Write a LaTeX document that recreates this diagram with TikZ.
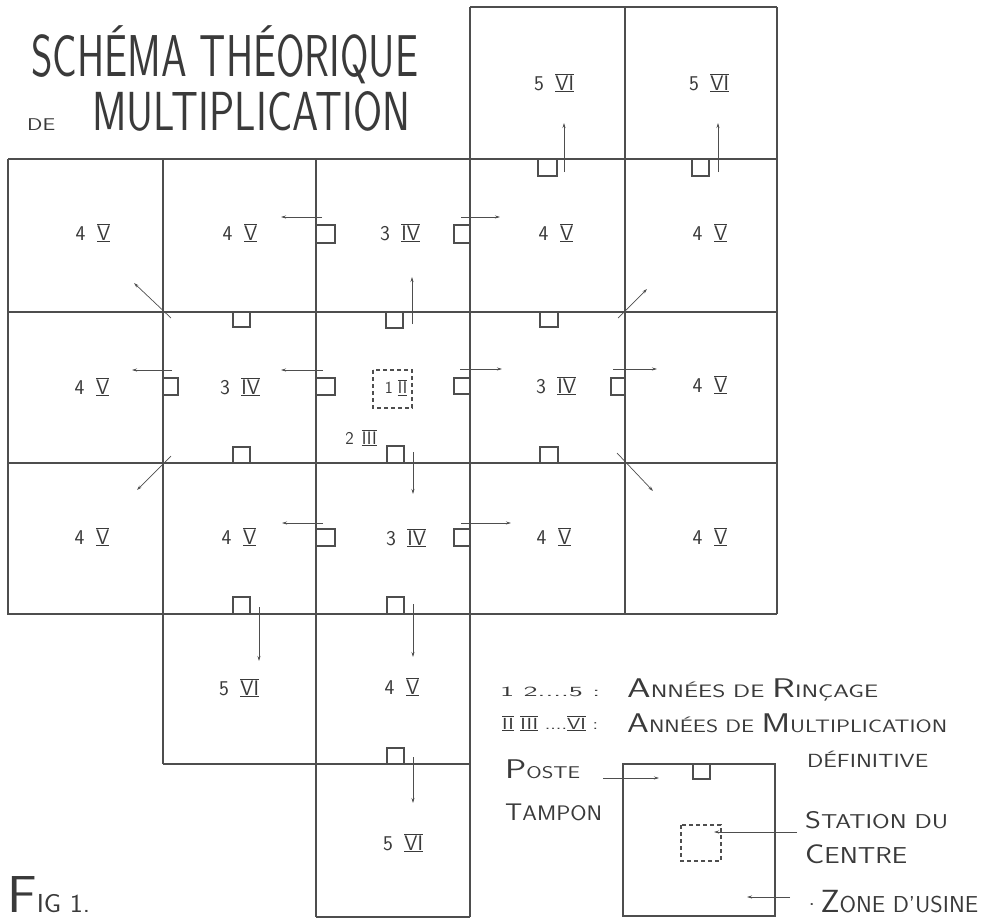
\documentclass[tikz,border=0pt]{standalone}
\usepackage{fontspec}
\usepackage{graphicx}
\usetikzlibrary{arrows.meta}
\definecolor{ink}{HTML}{3A3A3A}
\definecolor{lin}{HTML}{4E4E4E}
\newcommand\rn[1]{\setbox0\hbox{#1}\leavevmode\rlap{\rule[-0.1em]{\wd0}{0.055em}}\rlap{\rule[\dimexpr\ht0+0.05em\relax]{\wd0}{0.055em}}\box0\relax}
\newcommand\cl[2]{#1\hspace{0.55em}\rn{#2}}
\newcommand\fitw[2]{\resizebox{#1}{\height}{#2}}
\newcommand\fs[1]{\fontsize{#1}{#1}\selectfont}
\newcommand\LL[2]{{\fs{#1}#2}}
\begin{document}
\begin{tikzpicture}[x=1pt,y=-1pt,
  gridline/.style={line width=1.2pt, draw=lin},
  sq/.style={line width=1.1pt, draw=lin},
  arr/.style={line width=0.7pt, draw=lin, -{Stealth[length=5pt,width=3pt]}},
  lbl/.style={font=\sffamily\fs{21}, text=ink, inner sep=0pt},
  txt/.style={font=\sffamily, text=ink, inner sep=0pt, anchor=base west},
  leg/.style={txt, font=\sffamily\addfontfeature{LetterSpace=20}}]
\useasboundingbox (0,0) rectangle (988,921);
\fill[white] (0,0) rectangle (988,921);

% ---------------- grid ----------------
\draw[gridline] (470,7) -- (777,7);
\draw[gridline] (8,159) -- (777,159);
\draw[gridline] (8,312) -- (777,312);
\draw[gridline] (8,463) -- (777,463);
\draw[gridline] (8,614) -- (777,614);
\draw[gridline] (163,764) -- (470,764);
\draw[gridline] (316,917) -- (470,917);
\draw[gridline] (163,159) -- (163,764);
\draw[gridline] (316,159) -- (316,917);
\draw[gridline] (470,7) -- (470,917);
\draw[gridline] (625,7) -- (625,614);
\draw[gridline] (777,7) -- (777,614);
\draw[line width=2.4pt, draw=lin] (8,159) -- (8,614) -- (163,614);

% ---------------- cell labels ----------------
\node[lbl] (c03) at (554,83) {\cl{5}{VI}};
\node[lbl] (c04) at (709,83) {\cl{5}{VI}};
\node[lbl] (c10) at (93,233) {\cl{4}{V}};
\node[lbl] (c11) at (240,233) {\cl{4}{V}};
\node[lbl] (c12) at (400,233) {\cl{3}{IV}};
\node[lbl] (c13) at (556,233) {\cl{4}{V}};
\node[lbl] (c14) at (710,233) {\cl{4}{V}};
\node[lbl] (c20) at (92,387) {\cl{4}{V}};
\node[lbl] (c21) at (240,387) {\cl{3}{IV}};
\node[lbl, font=\sffamily\fs{17}] (c22) at (396,388) {1\hspace{0.3em}\rn{II}};
\node[lbl] (c23) at (556,386) {\cl{3}{IV}};
\node[lbl] (c24) at (710,385) {\cl{4}{V}};
\node[lbl] (c30) at (92,537) {\cl{4}{V}};
\node[lbl] (c31) at (239,537) {\cl{4}{V}};
\node[lbl] (c32) at (406,538) {\cl{3}{IV}};
\node[lbl] (c33) at (554,537) {\cl{4}{V}};
\node[lbl] (c34) at (710,537) {\cl{4}{V}};
\node[lbl] (c41) at (239,688) {\cl{5}{VI}};
\node[lbl] (c42) at (402,687) {\cl{4}{V}};
\node[lbl] (c52) at (403,843) {\cl{5}{VI}};
\node[lbl, font=\sffamily\fs{18}] (n2) at (361,438) {2\hspace{0.45em}\rn{III}};

% ---------------- centre station ----------------
\draw[sq, dash pattern=on 4pt off 3pt] (373,370) rectangle (412,408);

% ---------------- buffer posts (squares) ----------------
% hanging from a top edge
\draw[sq] (538,159) |- (557,176) -- (557,159);
\draw[sq] (692,159) |- (709,176) -- (709,159);
\draw[sq] (386,312) |- (403,328) -- (403,312);
\draw[sq] (233,312) |- (250,327) -- (250,312);
\draw[sq] (540,312) |- (558,327) -- (558,312);
% standing on a bottom edge
\draw[sq] (233,463) |- (250,447) -- (250,463);
\draw[sq] (387,463) |- (404,446) -- (404,463);
\draw[sq] (540,463) |- (558,447) -- (558,463);
\draw[sq] (233,614) |- (250,597) -- (250,614);
\draw[sq] (387,614) |- (404,597) -- (404,614);
\draw[sq] (387,764) |- (404,748) -- (404,764);
% on a left edge
\draw[sq] (316,225) -| (335,243) -- (316,243);
\draw[sq] (163,378) -| (178,395) -- (163,395);
\draw[sq] (316,378) -| (335,395) -- (316,395);
\draw[sq] (316,529) -| (335,546) -- (316,546);
% on a right edge
\draw[sq] (470,225) -| (454,243) -- (470,243);
\draw[sq] (470,378) -| (454,394) -- (470,394);
\draw[sq] (625,378) -| (611,395) -- (625,395);
\draw[sq] (470,529) -| (454,546) -- (470,546);

% ---------------- arrows ----------------
\draw[arr] (322,217) -- (281,217);
\draw[arr] (461,217) -- (500,217);
\draw[arr] (412,324) -- (412,277);
\draw[arr] (564,172) -- (564,123);
\draw[arr] (718,172) -- (718,123);
\draw[arr] (172,370) -- (132,370);
\draw[arr] (323,370) -- (281,370);
\draw[arr] (460,369) -- (502,369);
\draw[arr] (613,369) -- (657,369);
\draw[arr] (413,452) -- (413,494);
\draw[arr] (323,523) -- (282,523);
\draw[arr] (461,523) -- (511,523);
\draw[arr] (259,607) -- (259,661);
\draw[arr] (413,604) -- (413,657);
\draw[arr] (413,757) -- (413,803);
\draw[arr] (171,318) -- (134,283);
\draw[arr] (618,318) -- (647,289);
\draw[arr] (171,456) -- (137,490);
\draw[arr] (617,453) -- (653,491);

% ---------------- title ----------------
\node[txt] (t1) at (31,76) {\fitw{387pt}{\fs{59}SCHÉMA THÉORIQUE}};
\node[txt] (t2) at (27,130) {\fitw{28pt}{\fs{17}DE}};
\node[txt] (t3) at (92,130) {\fitw{318pt}{\fs{55}MULTIPLICATION}};

% ---------------- legend ----------------
\node[leg] (l1a) at (500,696) {\fitw{100pt}{\fs{14}1 2....5 :}};
\node[leg] (l1b) at (627,697) {\fitw{251pt}{\fs{18}\LL{27}{A}NNÉES DE \LL{27}{R}INÇAGE}};
\node[leg] (l2a) at (502,729) {\fitw{96pt}{\fs{16}\rn{II} \rn{III} ....\rn{VI} :}};
\node[leg] (l2b) at (627,732) {\fitw{320pt}{\fs{18}\LL{27}{A}NNÉES DE \LL{27}{M}ULTIPLICATION}};
\node[leg] (l3) at (807,767) {\fitw{121pt}{\fs{19}DÉFINITIVE}};
\node[leg] (lp1) at (505,778) {\fitw{75pt}{\fs{17}\LL{27}{P}OSTE}};
\node[leg] (lp2) at (505,820) {\fitw{97pt}{\fs{21}\LL{24}{T}AMPON}};
\node[leg] (ls1) at (805,828) {\fitw{143pt}{\fs{20}\LL{24}{S}TATION DU}};
\node[leg] (ls2) at (805,863) {\fitw{102pt}{\fs{23}\LL{27}{C}ENTRE}};
\node[leg] (lz) at (803,912) {\fitw{175pt}{\fs{23}·\LL{32}{Z}ONE D'USINE}};

\draw[gridline] (623,764) rectangle (775,916);
\draw[sq] (693,764) |- (710,779) -- (710,764);
\draw[sq, dash pattern=on 4pt off 3pt] (681,825) rectangle (721,861);
\draw[arr] (603,778) -- (659,778);
\draw[arr] (797,832) -- (714,832);
\draw[arr] (790,897) -- (747,897);

% ---------------- figure number ----------------
\node[txt] (fig) at (7,912) {\fitw{83pt}{\LL{52}{F}\fs{26}IG 1.}};
\end{tikzpicture}
\end{document}
